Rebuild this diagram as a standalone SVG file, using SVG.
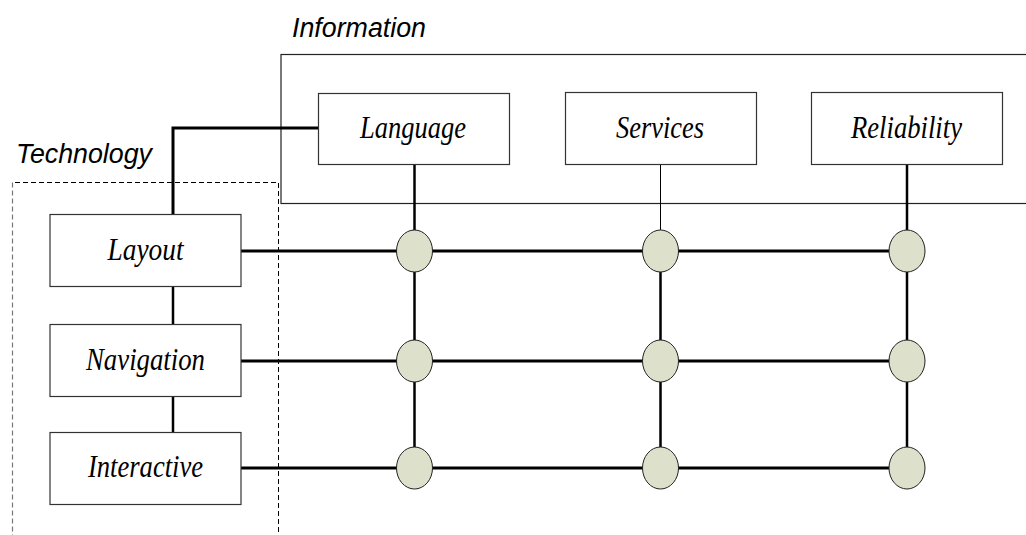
<svg xmlns="http://www.w3.org/2000/svg" width="1026" height="535" viewBox="0 0 1026 535">
<style>
.box{fill:#fff;stroke:#333;stroke-width:1.2}
.lbl{font-family:"Liberation Serif","Times New Roman",serif;font-style:italic;font-size:31px;fill:#000;text-anchor:middle}
.grp{font-family:"Liberation Sans",Arial,sans-serif;font-style:italic;font-size:27px;fill:#000}
.thick{stroke:#000;stroke-width:3;fill:none}
.mid{stroke:#000;stroke-width:2.5;fill:none}
.thin{stroke:#000;stroke-width:1;fill:none}
.node{fill:#dde0cb;stroke:#222;stroke-width:1}
</style>
<rect width="1026" height="535" fill="#fff"/>
<g id="information-group">
<rect x="281" y="54.5" width="760" height="149" fill="none" stroke="#222" stroke-width="1.2"/>
<text class="grp" x="292" y="37" textLength="134" lengthAdjust="spacingAndGlyphs">Information</text>
</g>
<g id="technology-group">
<path d="M278.5 540 V182.5 H12.5" fill="none" stroke="#000" stroke-width="1" stroke-dasharray="5,3"/>
<path d="M12.5 182.5 V540" fill="none" stroke="#777" stroke-width="1.2" stroke-dasharray="5,3"/>
<text class="grp" x="16" y="163" textLength="136" lengthAdjust="spacingAndGlyphs">Technology</text>
</g>
<g id="connectors">
<path class="thick" d="M173 214 V128 H318"/>
<path class="mid" d="M173 287 V324 M173 397 V432"/>
<path class="thick" d="M241 251 H907 M241 361 H907 M241 468 H907"/>
<path class="mid" d="M414.5 164 V468"/>
<path class="thin" d="M660.5 165 V251"/>
<path class="mid" d="M660.5 251 V468"/>
<path class="mid" d="M907 165 V468"/>
</g>
<g id="language"><rect class="box" x="318.5" y="93.5" width="191" height="71"/><text class="lbl" x="413" y="138" textLength="106" lengthAdjust="spacingAndGlyphs">Language</text></g>
<g id="services"><rect class="box" x="565.5" y="92.5" width="191" height="72"/><text class="lbl" x="660" y="138" textLength="88" lengthAdjust="spacingAndGlyphs">Services</text></g>
<g id="reliability"><rect class="box" x="811.5" y="92.5" width="191" height="72"/><text class="lbl" x="906.5" y="138" textLength="111" lengthAdjust="spacingAndGlyphs">Reliability</text></g>
<g id="layout"><rect class="box" x="50" y="214.5" width="191" height="72"/><text class="lbl" x="145.5" y="260" textLength="76" lengthAdjust="spacingAndGlyphs">Layout</text></g>
<g id="navigation"><rect class="box" x="50" y="324.5" width="191" height="72"/><text class="lbl" x="145.5" y="370" textLength="119" lengthAdjust="spacingAndGlyphs">Navigation</text></g>
<g id="interactive"><rect class="box" x="50" y="432.5" width="191" height="72"/><text class="lbl" x="145.5" y="477" textLength="115" lengthAdjust="spacingAndGlyphs">Interactive</text></g>
<g id="nodes">
<ellipse id="n-lang-layout" class="node" cx="414.5" cy="251" rx="18" ry="21"/>
<ellipse id="n-serv-layout" class="node" cx="660.5" cy="251" rx="18" ry="21"/>
<ellipse id="n-rel-layout" class="node" cx="907" cy="251" rx="18" ry="21"/>
<ellipse id="n-lang-nav" class="node" cx="414.5" cy="361" rx="18" ry="21"/>
<ellipse id="n-serv-nav" class="node" cx="660.5" cy="361" rx="18" ry="21"/>
<ellipse id="n-rel-nav" class="node" cx="907" cy="361" rx="18" ry="21"/>
<ellipse id="n-lang-int" class="node" cx="414.5" cy="468" rx="18" ry="21"/>
<ellipse id="n-serv-int" class="node" cx="660.5" cy="468" rx="18" ry="21"/>
<ellipse id="n-rel-int" class="node" cx="907" cy="468" rx="18" ry="21"/>
</g>
</svg>
